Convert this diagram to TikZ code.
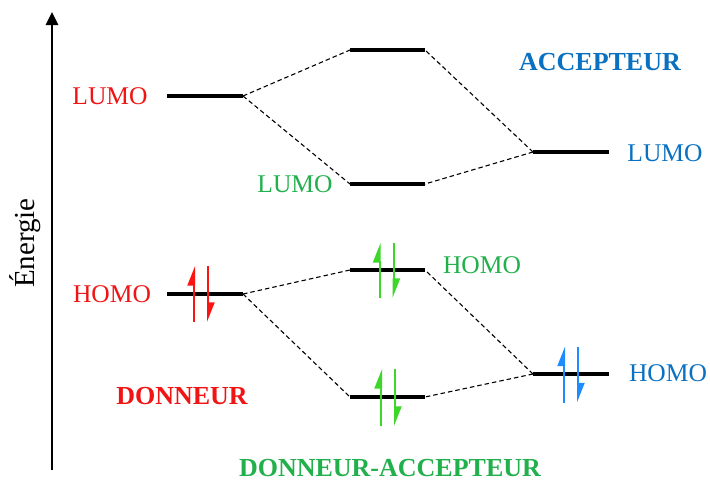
\documentclass[tikz,border=0pt]{standalone}
\usepackage{fontspec}
\setmainfont{Liberation Serif}
\usetikzlibrary{arrows.meta}
\definecolor{dred}{RGB}{240,20,20}
\definecolor{arred}{RGB}{250,20,20}
\definecolor{tgreen}{RGB}{34,176,76}
\definecolor{argreen}{RGB}{60,215,40}
\definecolor{tblue}{RGB}{10,112,192}
\definecolor{arblue}{RGB}{30,140,255}
\tikzset{
  level/.style={line width=3.2pt},
  link/.style={line width=1.1pt, dash pattern=on 4.5pt off 3pt},
  spinarrow/.style={line width=2pt, -{Triangle[left,length=17pt,width=13pt]}},
  lbl/.style={font=\fontsize{25.5}{28}\selectfont, inner sep=0pt},
  ttl/.style={font=\fontsize{26}{30}\selectfont\bfseries, inner sep=0pt},
}
\newcommand\spinpairx[4]{%
  \draw[spinarrow,#4] (#1-7,#2+#3) -- (#1-7,#2-#3);
  \draw[spinarrow,#4] (#1+7,#2-#3) -- (#1+7,#2+#3);
}
\begin{document}
\begin{tikzpicture}[x=1pt,y=-1pt]
\useasboundingbox (0,0) rectangle (710,482);
% energy axis
\coordinate (axb) at (52,470);
\coordinate (axt) at (52,12);
\draw[line width=2.6pt,-{Triangle[length=13pt,width=12pt]}] (axb) -- (axt);
\node[font=\fontsize{29}{32}\selectfont, rotate=90, inner sep=0pt] (en) at (25,243) {Énergie};
% level endpoints
\coordinate (dL1) at (167,96);  \coordinate (dL2) at (243,96);
\coordinate (dH1) at (167,294); \coordinate (dH2) at (243,294);
\coordinate (mT1) at (350,50);  \coordinate (mT2) at (425,50);
\coordinate (mL1) at (350,184); \coordinate (mL2) at (425,184);
\coordinate (mH1) at (350,270); \coordinate (mH2) at (425,270);
\coordinate (mB1) at (350,397); \coordinate (mB2) at (425,397);
\coordinate (aL1) at (533,152); \coordinate (aL2) at (609,152);
\coordinate (aH1) at (533,374); \coordinate (aH2) at (609,374);
% levels
\foreach \a/\b in {dL1/dL2,dH1/dH2,mT1/mT2,mL1/mL2,mH1/mH2,mB1/mB2,aL1/aL2,aH1/aH2}
  \draw[level] (\a) -- (\b);
% correlation lines
\draw[link] (dL2) -- (mT1);
\draw[link] (dL2) -- (mL1);
\draw[link] (aL1) -- (mT2);
\draw[link] (aL1) -- (mL2);
\draw[link] (dH2) -- (mH1);
\draw[link] (dH2) -- (mB1);
\draw[link] (aH1) -- (mH2);
\draw[link] (aH1) -- (mB2);
% electrons
\spinpairx{201}{294}{28}{arred}
\spinpairx{386.5}{270.5}{27.5}{argreen}
\spinpairx{388}{397.5}{28.5}{argreen}
\spinpairx{571}{374.5}{28}{arblue}
% labels
\node[lbl, text=dred] (tdL) at (110,96) {LUMO};
\node[lbl, text=dred] (tdH) at (112,294) {HOMO};
\node[lbl, text=tgreen] (tmL) at (295,184) {LUMO};
\node[lbl, text=tgreen] (tmH) at (482,265) {HOMO};
\node[lbl, text=tblue] (taL) at (665,153) {LUMO};
\node[lbl, text=tblue] (taH) at (668,373) {HOMO};
\node[ttl, text=tblue] (tA) at (600,62) {ACCEPTEUR};
\node[ttl, text=dred] (tD) at (182,396) {DONNEUR};
\node[ttl, text=tgreen] (tDA) at (390,468) {DONNEUR-ACCEPTEUR};
\end{tikzpicture}
\end{document}
